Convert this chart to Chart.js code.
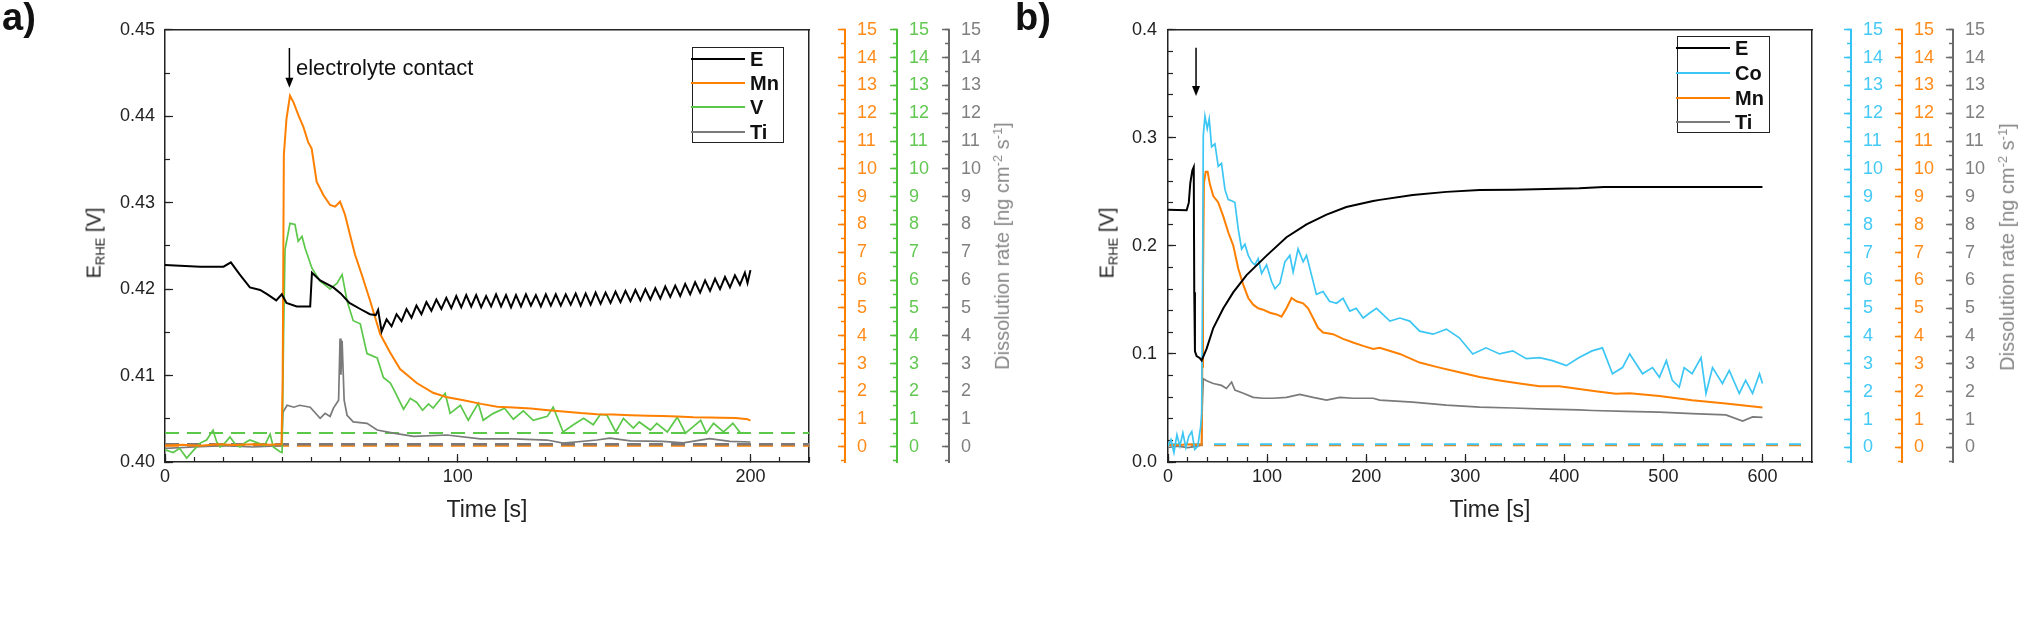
<!DOCTYPE html>
<html>
<head>
<meta charset="utf-8">
<script src="https://cdn.jsdelivr.net/npm/chart.js@4.4.1/dist/chart.umd.min.js"></script>
<style>
  body { margin: 0; background: #fff; width: 2020px; height: 622px; overflow: hidden; position: relative;
         font-family: "Liberation Sans", Arial, sans-serif; color: #222; }
  canvas { position: absolute; top: 0; }
  #chartA { left: 0; }
  #chartB { left: 1060px; }
  .tag { position: absolute; top: -3px; font: bold 38px/40px "Liberation Sans", Arial, sans-serif; color: #111; }
  .vt { position: absolute; white-space: nowrap; transform: translate(-50%, -50%) rotate(-90deg); font-size: 20px; line-height: 24px; }
  .vt sub { font-size: 0.65em; vertical-align: -0.3em; }
  .vt sup { font-size: 0.65em; vertical-align: 0.55em; }
  .note { position: absolute; font-size: 22px; line-height: 24px; white-space: nowrap; color: #111; }
  .lg { position: absolute; border: 1.5px solid #222; box-sizing: border-box; }
  .lg .it { position: absolute; left: 0; height: 0; }
  .lg .it i { position: absolute; left: -2px; top: -1px; width: 54px; height: 2px; }
  .lg .it span { position: absolute; left: 57px; top: -12px; font: bold 20px/24px "Liberation Sans", Arial, sans-serif; color: #111; }
</style>
</head>
<body>
<canvas id="chartA" width="1040" height="622"></canvas>
<canvas id="chartB" width="960" height="622"></canvas>

<div class="tag" style="left:2px">a)</div>
<div class="tag" style="left:1015px">b)</div>

<div class="vt" style="left:97px;top:243px">E<sub>RHE</sub> [V]</div>
<div class="vt" style="left:1110px;top:243px">E<sub>RHE</sub> [V]</div>
<div class="vt" style="left:1000px;top:246px;color:#888">Dissolution rate [ng cm<sup>-2</sup> s<sup>-1</sup>]</div>
<div class="vt" style="left:2005px;top:247px;color:#888">Dissolution rate [ng cm<sup>-2</sup> s<sup>-1</sup>]</div>

<div class="note" style="left:296px;top:56px">electrolyte contact</div>

<div class="lg" style="left:692px;top:47px;width:92px;height:96px">
  <div class="it" style="top:11px"><i style="background:#000"></i><span>E</span></div>
  <div class="it" style="top:35px"><i style="background:#FF8000"></i><span>Mn</span></div>
  <div class="it" style="top:59px"><i style="background:#5CC84A"></i><span>V</span></div>
  <div class="it" style="top:84px"><i style="background:#7A7A7A"></i><span>Ti</span></div>
</div>
<div class="lg" style="left:1677px;top:36px;width:93px;height:97px">
  <div class="it" style="top:11px"><i style="background:#000"></i><span>E</span></div>
  <div class="it" style="top:36px"><i style="background:#3CC6F4"></i><span>Co</span></div>
  <div class="it" style="top:61px"><i style="background:#FF8000"></i><span>Mn</span></div>
  <div class="it" style="top:85px"><i style="background:#7A7A7A"></i><span>Ti</span></div>
</div>

<script>
// ---- panel a) : potential and Mn / V / Ti dissolution ----
const aTimeE = [0, 12, 20, 22.5, 25.5, 29, 32.5, 35, 38, 39.9, 41.5, 45, 49.6, 50.2, 53, 57.5, 60, 63, 66.7, 70, 72, 72.8,
  74.0, 75.7, 77.4, 79.1, 80.8, 82.5, 84.2, 85.9, 87.6, 89.3, 91.0, 92.7, 94.4, 96.1, 97.8, 99.5, 101.2, 102.9,
  104.6, 106.3, 108.0, 109.7, 111.4, 113.1, 114.8, 116.5, 118.2, 119.9, 121.6, 123.3, 125.0, 126.7, 128.4, 130.1,
  131.8, 133.5, 135.2, 136.9, 138.6, 140.3, 142.0, 143.7, 145.4, 147.1, 148.8, 150.5, 152.2, 153.9, 155.6, 157.3,
  159.0, 160.7, 162.4, 164.1, 165.8, 167.5, 169.2, 170.9, 172.6, 174.3, 176.0, 177.7, 179.4, 181.1, 182.8, 184.5,
  186.2, 187.9, 189.6, 191.3, 193.0, 194.7, 196.4, 198.1, 199.0, 200.0];
const aE = [0.4228, 0.4226, 0.4226, 0.4231, 0.4217, 0.4202, 0.4199, 0.4194, 0.4187, 0.4194, 0.4184, 0.4180, 0.4180,
  0.4219, 0.4210, 0.4202, 0.4195, 0.4184, 0.4177, 0.4171, 0.4170, 0.4176,
  0.4151, 0.4165, 0.4157, 0.4171, 0.4163, 0.4177, 0.4167, 0.4181, 0.4171, 0.4185,
  0.4175, 0.4188, 0.4177, 0.4190, 0.4178, 0.4192, 0.4179, 0.4193, 0.4180, 0.4193,
  0.4179, 0.4192, 0.4180, 0.4194, 0.4180, 0.4193, 0.4179, 0.4193, 0.4180, 0.4194,
  0.4181, 0.4193, 0.4180, 0.4194, 0.4181, 0.4194, 0.4181, 0.4194, 0.4182, 0.4195,
  0.4181, 0.4195, 0.4182, 0.4196, 0.4183, 0.4196, 0.4184, 0.4197, 0.4185, 0.4198,
  0.4186, 0.4199, 0.4187, 0.4200, 0.4188, 0.4201, 0.4189, 0.4203, 0.4191, 0.4204,
  0.4192, 0.4206, 0.4194, 0.4208, 0.4196, 0.4210, 0.4198, 0.4212, 0.4200, 0.4214,
  0.4202, 0.4216, 0.4205, 0.4219, 0.4207, 0.4222];

const aTimeMn = [0, 6, 12, 18, 24, 30, 36, 39.8, 40.2, 40.6, 41.5, 42.7, 43.9, 45.6, 47.3, 48.9, 50.1, 51.8, 54.1, 56.4,
  58.1, 59.8, 61.5, 63.2, 64.9, 67.2, 70.1, 73.5, 76.9, 80.3, 86, 91.6, 96, 102, 108, 113.5, 119, 125, 130, 136,
  142, 147.6, 153, 159, 165, 170, 175, 180.5, 186, 190, 195, 199, 200];
const aMn = [0.05, 0.08, 0.04, 0.1, 0.07, 0.1, 0.08, 0.1, 2.5, 10.5, 11.8, 12.63, 12.39, 11.92, 11.5, 10.96, 10.73, 9.54, 9.06, 8.7,
  8.64, 8.82, 8.35, 7.63, 6.92, 6.2, 5.25, 4.06, 3.4, 2.8, 2.3, 1.95, 1.8, 1.68, 1.55, 1.45, 1.42, 1.38, 1.33, 1.28,
  1.22, 1.18, 1.17, 1.14, 1.12, 1.11, 1.1, 1.07, 1.06, 1.05, 1.04, 1.0, 0.95];

const aTimeV = [0, 2.8, 5, 7.4, 9.5, 12, 14.2, 16.4, 17.6, 18.8, 20.5, 22.2, 24, 25.6, 27.3, 29, 31.9, 34, 35.9, 37,
  39.3, 40.0, 40.5, 41, 42.7, 44.4, 45.5, 46.8, 47.9, 50.2, 53, 56.4, 58.8, 60.5, 62.2, 64.3, 66.7, 69, 72.5, 74.6,
  77, 78, 81.5, 83.8, 86, 88, 90, 91.6, 95.7, 97.4, 100.9, 103.6, 107, 108.7, 112, 116, 119, 122.4, 125.8, 130.6,
  132.6, 136, 139.5, 143, 146.3, 148.7, 151, 154, 156.6, 160, 162, 165.8, 168, 171.6, 175, 177.8, 183, 185, 187.4, 190.8,
  194, 196.6, 200];
const aV = [-0.1, -0.2, -0.05, -0.4, -0.15, 0.14, 0.25, 0.6, 0.2, 0.0, 0.15, 0.36, 0.1, 0.0, 0.15, 0.25, 0.14, 0.05, 0.46, 0.0,
  -0.17, -0.2, 4.0, 7.1, 8.04, 8.0, 7.4, 7.57, 7.14, 6.43, 5.96, 5.68, 5.89, 6.2, 5.25, 4.54, 4.43, 3.36, 3.2, 2.5,
  2.3, 2.1, 1.36, 1.75, 1.6, 1.32, 1.55, 1.4, 1.93, 1.21, 1.5, 0.96, 1.57, 0.96, 1.2, 1.39, 1.0, 1.3, 0.96, 1.1,
  1.43, 0.54, 0.8, 1.03, 0.8, 1.17, 1.14, 0.54, 1.03, 0.68, 0.9, 0.61, 0.85, 0.54, 1.07, 0.5, 0.96, 0.5, 0.85, 0.54,
  0.85, 0.5, 0.5];

const aTimeTi = [0, 10, 20, 30, 39.8, 40.3, 41.7, 44, 46, 49.6, 53, 54.7, 56.4, 57.5, 59.3, 59.8, 60.1, 60.5, 61.2, 62.2,
  64.3, 69, 72.5, 78, 85, 96.3, 107.7, 119, 130.5, 136, 147.6, 152, 159, 170, 177, 186, 193, 200];
const aTi = [-0.05, 0.0, 0.05, 0.0, 0.05, 1.25, 1.5, 1.43, 1.5, 1.43, 1.03, 1.21, 1.1, 1.39, 1.68, 3.9, 2.6, 3.82, 1.68, 1.14,
  0.9, 0.85, 0.61, 0.5, 0.38, 0.43, 0.29, 0.29, 0.25, 0.14, 0.25, 0.32, 0.22, 0.2, 0.15, 0.3, 0.2, 0.18];

const aBaseTime = [0, 220];
const aBaseV = [0.5, 0.5];
const aBaseTi = [0.1, 0.1];
const aBaseMn = [0.05, 0.05];

// ---- panel b) : potential and Co / Mn / Ti dissolution ----
const bTimeE = [0, 18.8, 21, 22.5, 24.6, 26, 26.5, 27.2, 28.9, 32.3, 34, 39, 45.7, 55.7, 65.8, 79.3, 99.5, 119.6, 139.8, 160,
  180, 207, 213.7, 247, 281, 314.5, 348, 382, 415, 440, 455, 500, 536, 570, 600];
const bE = [0.2334, 0.233, 0.24, 0.258, 0.27, 0.273, 0.157, 0.1025, 0.098, 0.096, 0.094, 0.105, 0.124, 0.142, 0.157, 0.173, 0.191, 0.208, 0.22, 0.229,
  0.236, 0.2415, 0.2426, 0.2472, 0.25, 0.2517, 0.252, 0.2527, 0.2533, 0.2545, 0.2545, 0.2545, 0.2545, 0.2545, 0.2545];

const bTimeCo = [0, 3, 6, 9, 12, 15, 18, 21, 24, 27, 30, 33, 34, 35, 35.6, 37.3, 39.6, 41.6, 44, 47.4,
  50.7, 54, 57.5, 60.8, 64.2, 67.5, 70.9, 74.3, 77.6, 81, 84.4, 87.7, 91, 94.5, 99.5, 104.5, 108, 113, 118, 123,
  126.3, 131.3, 136.4, 139.8, 144.8, 149.8, 156.5, 163, 170, 176.7, 183.5, 190, 197, 203.6, 210.4, 224, 234, 244, 254, 267.5,
  281, 294, 307.6, 321, 334.7, 348, 361.6, 375, 388, 402, 415, 428, 438.5, 448.6, 458.7, 466, 479, 489, 496, 503,
  509, 516, 521, 529, 538, 543, 549.6, 559.6, 566.5, 576.6, 583, 590, 597, 600];
const bCo = [0.05, 0.28, -0.18, 0.46, 0.05, 0.53, 0.0, 0.4, 0.57, -0.07, 0.04, 0.76, 1.24, 6.4, 11.2, 11.9, 11.45, 11.8, 10.8, 10.9,
  10.1, 10.2, 9.26, 8.9, 8.86, 8.8, 7.84, 7.13, 7.3, 6.9, 6.67, 6.56, 6.78, 6.25, 6.56, 5.96, 5.7, 5.9, 6.67, 6.9,
  6.3, 7.13, 6.67, 6.9, 6.2, 5.5, 5.6, 5.25, 5.18, 5.36, 4.9, 5.0, 4.65, 4.83, 5.0, 4.54, 4.65, 4.54, 4.18, 4.07,
  4.25, 3.94, 3.36, 3.58, 3.36, 3.47, 3.19, 3.23, 3.12, 2.94, 3.23, 3.47, 3.58, 2.65, 2.87, 3.36, 2.65, 2.87, 2.52, 3.12,
  2.41, 2.17, 2.87, 2.65, 3.23, 1.94, 2.87, 2.3, 2.77, 1.94, 2.41, 1.94, 2.65, 2.3];

const bTimeMn = [0, 10, 20, 30, 34, 34.6, 35.3, 36.3, 38, 40, 42.3, 45.7, 50.7, 55.8, 60.8, 65.8, 70.9, 75.9, 81, 86,
  91, 96, 102.8, 109.6, 114.6, 119.6, 124.7, 129.7, 136.4, 141.4, 146.4, 151.4, 156.5, 166.6, 176.7, 186.8, 196.9, 207, 213.7, 234,
  254, 274, 294, 314.5, 334.7, 355, 375, 395, 415, 435.5, 452, 466, 496, 529, 563, 600];
const bMn = [0.1, 0.08, 0.12, 0.1, 0.12, 2.9, 5.85, 9.5, 9.9, 9.9, 9.45, 9.03, 8.8, 8.3, 7.73, 7.26, 6.43, 5.85, 5.37, 5.13,
  5.0, 4.95, 4.84, 4.78, 4.7, 5.0, 5.37, 5.25, 5.18, 5.0, 4.65, 4.3, 4.13, 4.07, 3.9, 3.77, 3.65, 3.54, 3.58, 3.36,
  3.05, 2.87, 2.7, 2.53, 2.41, 2.3, 2.2, 2.2, 2.1, 2.0, 1.93, 1.95, 1.85, 1.7, 1.58, 1.44];

const bTimeTi = [0, 10, 20, 30, 34, 34.6, 35.6, 39, 45.7, 54, 59, 64.2, 67.5, 76, 86, 96, 106, 119.6, 133, 146.4,
  160, 173.4, 186.8, 207, 213.7, 247, 281, 314.5, 348, 382, 415, 428, 462, 496, 529, 563, 580, 590, 600];
const bTi = [0.0, 0.05, 0.0, 0.05, 0.1, 1.47, 2.47, 2.4, 2.3, 2.23, 2.12, 2.35, 2.06, 1.95, 1.8, 1.77, 1.77, 1.8, 1.91, 1.8,
  1.7, 1.8, 1.77, 1.77, 1.7, 1.63, 1.52, 1.45, 1.42, 1.38, 1.35, 1.33, 1.3, 1.27, 1.22, 1.17, 0.95, 1.1, 1.08];

const bBaseTime = [0, 650];
const bBaseCo = [0.12, 0.12];
const bBaseMn = [0.08, 0.08];

const rateTicks = [0, 15];   // dissolution-rate axes run 0 .. 15 ng cm-2 s-1

// ---- colours ----
const cE = '#000000', cMn = '#FF8000', cV = '#5CC84A', cTi = '#7A7A7A', cCo = '#3CC6F4';

Chart.defaults.font.family = '"Liberation Sans", Arial, sans-serif';
Chart.defaults.color = '#222';

function pts(ts, vs) {
  return ts.map((t, i) => ({x: t, y: vs[i]}));
}

function series(label, ts, vs, color, yAxisID, width, dash) {
  return {
    label: label, data: pts(ts, vs), xAxisID: 'x', yAxisID: yAxisID,
    borderColor: color, backgroundColor: color, borderWidth: width,
    borderDash: dash || [], pointRadius: 0, tension: 0, fill: false
  };
}

const tickFont = {size: 18};

// left potential axis + bottom time axis + frame
function baseScales(p) {
  return {
    x: {
      type: 'linear', position: 'bottom', weight: 1, min: 0, max: p.xMax,
      afterFit: s => { s.height = 160; },
      border: {color: '#222', width: 1.5},
      grid: {drawOnChartArea: false, tickLength: -8, color: '#222', tickWidth: 1.2},
      ticks: {stepSize: p.xMajor, includeBounds: false, padding: 12, color: '#222', font: tickFont, maxRotation: 0, autoSkip: false},
      title: {display: true, text: 'Time [s]', font: {size: 23}, color: '#222', padding: {top: 0, bottom: 98}}
    },
    xMinor: {
      type: 'linear', position: 'bottom', weight: 0, min: 0, max: p.xMax,
      afterFit: s => { s.height = 0; },
      border: {display: false},
      grid: {drawOnChartArea: false, tickLength: -5, color: '#222', tickWidth: 1.2},
      ticks: {stepSize: p.xMinor, includeBounds: false, display: false, autoSkip: false}
    },
    xTop: {
      type: 'linear', position: 'top', min: 0, max: p.xMax,
      afterFit: s => { s.height = 0; },
      border: {color: '#222', width: 1.5},
      grid: {drawOnChartArea: false, drawTicks: false},
      ticks: {display: false}
    },
    y: {
      type: 'linear', position: 'left', weight: 1, min: p.yMin, max: p.yMax,
      afterFit: s => { s.width = p.leftWidth; },
      border: {color: '#222', width: 1.5},
      grid: {drawOnChartArea: false, tickLength: -8, color: '#222', tickWidth: 1.2},
      ticks: {stepSize: p.yMajor, padding: p.yPad, color: '#222', font: tickFont, autoSkip: false,
              callback: v => v.toFixed(p.yDec)}
    },
    yMinor: {
      type: 'linear', position: 'left', weight: 0, min: p.yMin, max: p.yMax,
      afterFit: s => { s.width = 0; },
      border: {display: false},
      grid: {drawOnChartArea: false, tickLength: -5, color: '#222', tickWidth: 1.2},
      ticks: {stepSize: p.yMinorStep, display: false, autoSkip: false}
    },
    frameR: {
      type: 'linear', position: 'right', weight: 0, min: 0, max: 1,
      afterFit: s => { s.width = p.gap; },
      border: {color: '#222', width: 1.5},
      grid: {drawOnChartArea: false, drawTicks: false},
      ticks: {display: false}
    }
  };
}

// the three coloured dissolution-rate axes on the right
function addRateAxes(scales, axes, rMin) {
  axes.forEach((a, i) => {
    scales[a.id] = {
      type: 'linear', position: 'right', weight: 2 * i + 2, min: rMin, max: rateTicks[1],
      afterFit: s => { s.width = a.width; },
      border: {color: a.color, width: 2},
      grid: {drawOnChartArea: false, tickLength: -7, color: a.color, tickWidth: 1.5},
      ticks: {stepSize: 1, includeBounds: false, padding: 19, color: a.text, font: tickFont, autoSkip: false}
    };
    scales[a.id + 'Minor'] = {
      type: 'linear', position: 'right', weight: 2 * i + 1, min: rMin, max: rateTicks[1],
      afterFit: s => { s.width = 0; },
      border: {display: false},
      grid: {drawOnChartArea: false, tickLength: -4, color: a.color, tickWidth: 1.5},
      ticks: {stepSize: 0.5, includeBounds: false, display: false, autoSkip: false}
    };
  });
  return scales;
}

// little arrow marking the electrolyte contact
const contactArrow = {
  id: 'contactArrow',
  afterDatasetsDraw(chart, args, o) {
    const x = chart.scales.x.getPixelForValue(o.t);
    const y1 = chart.scales.y.getPixelForValue(o.from);
    const y2 = chart.scales.y.getPixelForValue(o.to);
    const ctx = chart.ctx;
    ctx.save();
    ctx.strokeStyle = '#000';
    ctx.fillStyle = '#000';
    ctx.lineWidth = 1.5;
    ctx.beginPath();
    ctx.moveTo(x, y1);
    ctx.lineTo(x, y2 - 6);
    ctx.stroke();
    ctx.beginPath();
    ctx.moveTo(x - 4, y2 - 10);
    ctx.lineTo(x + 4, y2 - 10);
    ctx.lineTo(x, y2);
    ctx.closePath();
    ctx.fill();
    ctx.restore();
  }
};

function commonOptions(scales, top, arrow) {
  return {
    responsive: false,
    animation: false,
    layout: {padding: {top: top, left: 0, right: 0, bottom: 0}},
    plugins: {legend: {display: false}, tooltip: {enabled: false}, contactArrow: arrow},
    scales: scales
  };
}

// ---- chart a ----
const scalesA = addRateAxes(baseScales({
  xMax: 220, xMajor: 100, xMinor: 10, yMin: 0.40, yMax: 0.45, yMajor: 0.01, yMinorStep: 0.005,
  yDec: 2, yPad: 18, leftWidth: 165, gap: 36
}), [
  {id: 'rMn', color: cMn, text: '#FF8C1A', width: 52},
  {id: 'rV', color: '#4DBF3A', text: '#62C852', width: 52},
  {id: 'rTi', color: '#6A6A6A', text: '#808080', width: 91}
], -0.54);

new Chart(document.getElementById('chartA'), {
  type: 'line',
  data: {
    datasets: [
      series('E', aTimeE, aE, cE, 'y', 2),
      series('Mn', aTimeMn, aMn, cMn, 'rMn', 2),
      series('V', aTimeV, aV, cV, 'rV', 1.7),
      series('Ti', aTimeTi, aTi, cTi, 'rTi', 1.7),
      series('V base', aBaseTime, aBaseV, cV, 'rV', 2, [14, 8]),
      series('Ti base', aBaseTime, aBaseTi, cTi, 'rTi', 2.5, [14, 8]),
      series('Mn base', aBaseTime, aBaseMn, cMn, 'rMn', 2.5, [14, 8])
    ]
  },
  options: commonOptions(scalesA, 27, {t: 42.5, from: 0.4479, to: 0.4433}),
  plugins: [contactArrow]
});

// ---- chart b ----
const scalesB = addRateAxes(baseScales({
  xMax: 650, xMajor: 100, xMinor: 20, yMin: 0, yMax: 0.4, yMajor: 0.1, yMinorStep: 0.02,
  yDec: 1, yPad: 19, leftWidth: 108, gap: 39
}), [
  {id: 'rCo', color: '#33C3F5', text: '#45C9F5', width: 51},
  {id: 'rMn', color: cMn, text: '#FF8C1A', width: 51},
  {id: 'rTi', color: '#6A6A6A', text: '#808080', width: 67}
], -0.52);

new Chart(document.getElementById('chartB'), {
  type: 'line',
  data: {
    datasets: [
      series('E', bTimeE, bE, cE, 'y', 2),
      series('Co', bTimeCo, bCo, cCo, 'rCo', 1.7),
      series('Mn', bTimeMn, bMn, cMn, 'rMn', 2),
      series('Ti', bTimeTi, bTi, cTi, 'rTi', 1.7),
      series('Co base', bBaseTime, bBaseCo, cCo, 'rCo', 2, [12, 11]),
      series('Mn base', bBaseTime, bBaseMn, cMn, 'rMn', 2, [12, 11])
    ]
  },
  options: commonOptions(scalesB, 25, {t: 28.3, from: 0.3835, to: 0.3387}),
  plugins: [contactArrow]
});
</script>
</body>
</html>
